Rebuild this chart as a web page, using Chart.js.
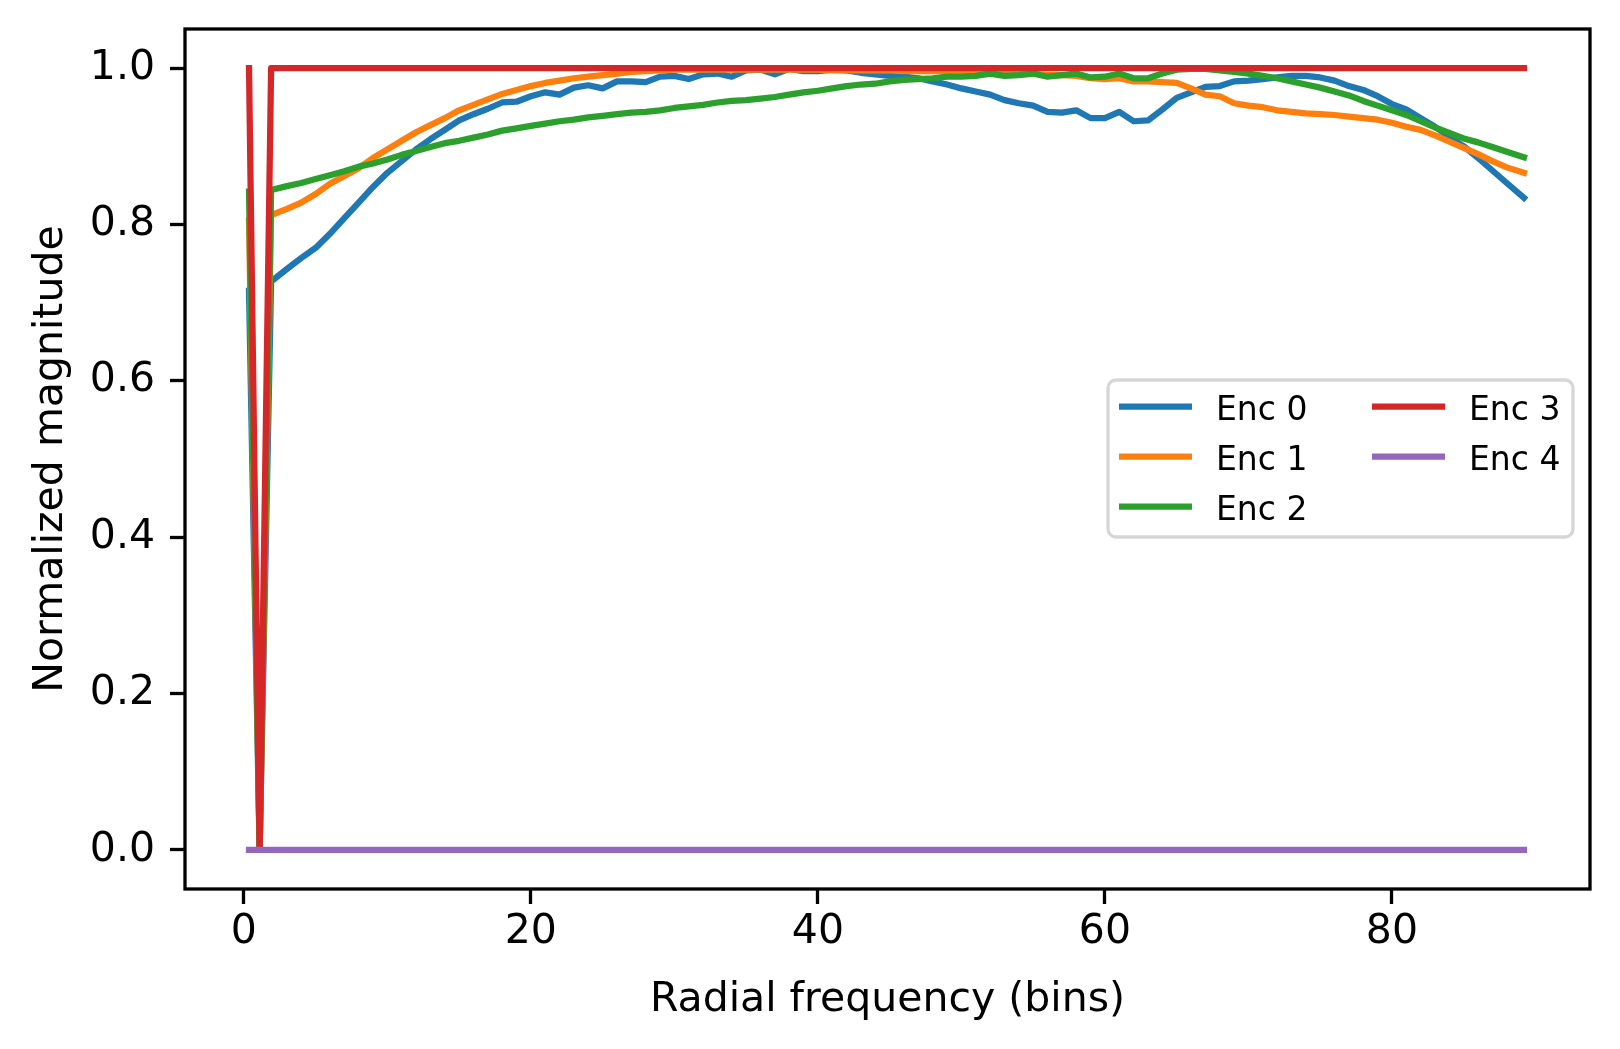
<!DOCTYPE html>
<html>
<head>
<meta charset="utf-8">
<script src="https://cdn.jsdelivr.net/npm/chart.js@4.4.1/dist/chart.umd.min.js"></script>
<style>
  html, body { margin: 0; padding: 0; background: #fff; }
  canvas { display: block; }
</style>
</head>
<body>
<canvas id="spectrumChart" width="1620" height="1049"></canvas>
<script>
// radial frequency bins (x positions of the samples)
const bins = [
  0.36, 1.1, 1.9, 3, 4, 5, 6, 7, 8, 9,
  10, 11, 12, 13, 14, 15, 16, 17, 18, 19,
  20, 21, 22, 23, 24, 25, 26, 27, 28, 29,
  30, 31, 32, 33, 34, 35, 36, 37, 38, 39,
  40, 41, 42, 43, 44, 45, 46, 47, 48, 49,
  50, 51, 52, 53, 54, 55, 56, 57, 58, 59,
  60, 61, 62, 63, 64, 65, 66, 67, 68, 69,
  70, 71, 72, 73, 74, 75, 76, 77, 78, 79,
  80, 81, 82, 83, 84, 85, 86, 87, 88, 89.2
];

const enc0 = [
  0.715, 0, 0.727, 0.743, 0.757, 0.770, 0.788, 0.808, 0.828, 0.848,
  0.866, 0.881, 0.896, 0.909, 0.921, 0.933, 0.941, 0.948, 0.956, 0.957,
  0.964, 0.969, 0.966, 0.975, 0.978, 0.974, 0.983, 0.983, 0.982, 0.989,
  0.990, 0.986, 0.992, 0.993, 0.989, 0.997, 0.998, 0.992, 0.999, 0.996,
  0.996, 0.998, 0.997, 0.994, 0.992, 0.990, 0.989, 0.987, 0.983, 0.979,
  0.974, 0.970, 0.966, 0.959, 0.955, 0.952, 0.944, 0.943, 0.946, 0.936,
  0.936, 0.944, 0.932, 0.933, 0.947, 0.962, 0.969, 0.976, 0.977, 0.983,
  0.984, 0.986, 0.988, 0.990, 0.990, 0.988, 0.984, 0.977, 0.972, 0.964,
  0.954, 0.947, 0.936, 0.925, 0.912, 0.900, 0.885, 0.869, 0.853, 0.834
];

const enc1 = [
  0.805, 0, 0.812, 0.820, 0.828, 0.839, 0.852, 0.862, 0.872, 0.885,
  0.896, 0.907, 0.918, 0.927, 0.936, 0.946, 0.953, 0.960, 0.967, 0.972,
  0.977, 0.981, 0.984, 0.987, 0.989, 0.991, 0.993, 0.995, 0.996, 0.997,
  0.998, 0.998, 0.998, 0.998, 0.998, 0.998, 0.998, 0.998, 0.998, 0.998,
  0.998, 0.997, 0.997, 0.997, 0.997, 0.997, 0.996, 0.996, 0.996, 0.996,
  0.996, 0.996, 0.996, 0.995, 0.994, 0.993, 0.991, 0.991, 0.990, 0.987,
  0.986, 0.987, 0.983, 0.983, 0.982, 0.981, 0.974, 0.966, 0.964, 0.955,
  0.952, 0.950, 0.946, 0.944, 0.942, 0.941, 0.940, 0.938, 0.936, 0.934,
  0.930, 0.925, 0.921, 0.914, 0.906, 0.898, 0.890, 0.881, 0.873, 0.866
];

const enc2 = [
  0.842, 0, 0.844, 0.849, 0.853, 0.858, 0.863, 0.868, 0.874, 0.878,
  0.883, 0.889, 0.894, 0.899, 0.904, 0.907, 0.911, 0.915, 0.920, 0.923,
  0.926, 0.929, 0.932, 0.934, 0.937, 0.939, 0.941, 0.943, 0.944, 0.946,
  0.949, 0.951, 0.953, 0.956, 0.958, 0.959, 0.961, 0.963, 0.966, 0.969,
  0.971, 0.974, 0.977, 0.979, 0.980, 0.983, 0.985, 0.986, 0.987, 0.989,
  0.989, 0.990, 0.993, 0.990, 0.991, 0.993, 0.989, 0.991, 0.993, 0.988,
  0.989, 0.993, 0.987, 0.987, 0.993, 0.998, 0.999, 0.999, 0.997, 0.995,
  0.993, 0.990, 0.987, 0.983, 0.979, 0.975, 0.970, 0.965, 0.958, 0.952,
  0.946, 0.940, 0.932, 0.924, 0.917, 0.910, 0.905, 0.899, 0.893, 0.886
];

// Enc 3 is flat at 1 apart from the dip in the second bin, Enc 4 is flat at 0
const enc3Bins = [0.36, 1.1, 1.9, 89.2];
const enc3 = [1, 0, 1, 1];
const enc4Bins = [0.36, 89.2];
const enc4 = [0, 0];

const seriesNames = ["Enc 0", "Enc 1", "Enc 2", "Enc 3", "Enc 4"];
const seriesColors = ["#1f77b4", "#ff7f0e", "#2ca02c", "#d62728", "#9467bd"];

const xTicks = [0, 20, 40, 60, 80];
const yTicks = [0.0, 0.2, 0.4, 0.6, 0.8, 1.0];

function toPoints(xs, ys) {
  return xs.map((x, i) => ({ x: x, y: ys[i] }));
}

const seriesPoints = [
  toPoints(bins, enc0),
  toPoints(bins, enc1),
  toPoints(bins, enc2),
  toPoints(enc3Bins, enc3),
  toPoints(enc4Bins, enc4),
];

const FONT = "'DejaVu Sans', 'Liberation Sans', sans-serif";

// box around the plot area (all four spines)
const framePlugin = {
  id: "frame",
  afterDatasetsDraw(chart) {
    const { ctx, chartArea } = chart;
    ctx.save();
    ctx.strokeStyle = "#000";
    ctx.lineWidth = 3.3;
    ctx.strokeRect(chartArea.left, chartArea.top,
      chartArea.right - chartArea.left, chartArea.bottom - chartArea.top);
    ctx.restore();
  },
};

// two column legend, placed like the matplotlib one
const legendPlugin = {
  id: "twoColLegend",
  afterDraw(chart) {
    const ctx = chart.ctx;
    const box = { left: 1108, top: 380, right: 1573, bottom: 537 };
    ctx.save();
    ctx.beginPath();
    ctx.roundRect(box.left, box.top, box.right - box.left, box.bottom - box.top, 8);
    ctx.fillStyle = "rgba(255,255,255,0.8)";
    ctx.fill();
    ctx.lineWidth = 3.3;
    ctx.strokeStyle = "#d6d6d6";
    ctx.stroke();

    const cols = [1119, 1372];
    const rowY = [406.7, 456.7, 506.7];
    ctx.font = "33px " + FONT;
    ctx.textAlign = "left";
    ctx.textBaseline = "alphabetic";
    chart.data.datasets.forEach((ds, i) => {
      const c = i < 3 ? 0 : 1;
      const r = i < 3 ? i : i - 3;
      const x0 = cols[c];
      const y = rowY[r];
      ctx.beginPath();
      ctx.moveTo(x0, y);
      ctx.lineTo(x0 + 73, y);
      ctx.strokeStyle = ds.borderColor;
      ctx.lineWidth = 6.25;
      ctx.lineCap = "butt";
      ctx.stroke();
      ctx.fillStyle = "#000";
      ctx.fillText(ds.label, x0 + 97, y + 13.3);
    });
    ctx.restore();
  },
};

// keep tick label overhang from pushing the plot area around
function noLabelPadding(scale) {
  scale.paddingTop = 0;
  scale.paddingBottom = 0;
  scale.paddingLeft = 0;
  scale.paddingRight = 0;
}

const ctx = document.getElementById("spectrumChart").getContext("2d");

const chart = new Chart(ctx, {
  type: "line",
  data: {
    datasets: seriesNames.map((name, i) => ({
      label: name,
      data: seriesPoints[i],
      borderColor: seriesColors[i],
      backgroundColor: seriesColors[i],
      order: seriesNames.length - i, // later series on top, like matplotlib
    })),
  },
  options: {
    responsive: false,
    animation: false,
    devicePixelRatio: 1,
    parsing: false,
    layout: { padding: { left: 0, top: 29, right: 30, bottom: 0 } },
    elements: {
      point: { radius: 0 },
      line: {
        tension: 0,
        borderWidth: 6.25,
        borderJoinStyle: "round",
        borderCapStyle: "square",
        fill: false,
      },
    },
    plugins: {
      legend: { display: false },
      tooltip: { enabled: false },
    },
    scales: {
      x: {
        type: "linear",
        min: -4.1,
        max: 93.8,
        afterBuildTicks: (scale) => {
          scale.ticks = xTicks.map((v) => ({ value: v }));
        },
        afterFit: (scale) => {
          scale.height = 160;
          noLabelPadding(scale);
        },
        grid: {
          drawOnChartArea: false,
          drawTicks: true,
          tickLength: 15,
          tickWidth: 3.3,
          tickColor: "#000",
        },
        border: { display: false },
        ticks: {
          color: "#000",
          padding: 4,
          maxRotation: 0,
          font: { family: FONT, size: 41 },
        },
        title: {
          display: true,
          text: "Radial frequency (bins)",
          color: "#000",
          font: { family: FONT, size: 41 },
          padding: { top: 0, bottom: 24 },
        },
      },
      y: {
        type: "linear",
        min: -0.05,
        max: 1.05,
        afterBuildTicks: (scale) => {
          scale.ticks = yTicks.map((v) => ({ value: v }));
        },
        afterFit: (scale) => {
          scale.width = 185;
          noLabelPadding(scale);
        },
        grid: {
          drawOnChartArea: false,
          drawTicks: true,
          tickLength: 15,
          tickWidth: 3.3,
          tickColor: "#000",
        },
        border: { display: false },
        ticks: {
          color: "#000",
          padding: 15,
          font: { family: FONT, size: 41 },
          callback: (v) => Number(v).toFixed(1),
        },
        title: {
          display: true,
          text: "Normalized magnitude",
          color: "#000",
          font: { family: FONT, size: 41 },
          padding: { top: 27, bottom: 0 },
        },
      },
    },
  },
  plugins: [framePlugin, legendPlugin],
});
</script>
</body>
</html>
